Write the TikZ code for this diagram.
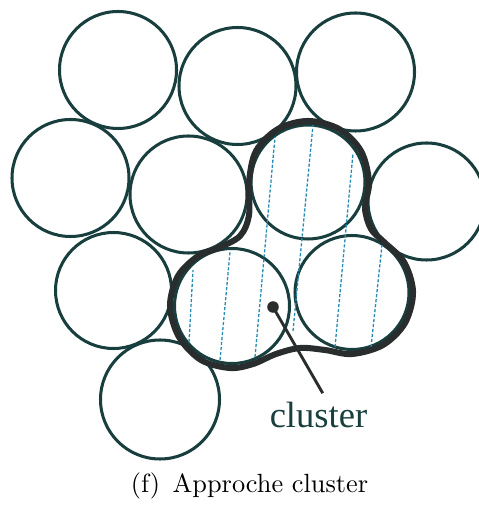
\documentclass[tikz,border=0pt]{standalone}
\usepackage{fontspec}
\usepackage{tikz}
\usetikzlibrary{positioning}
\newfontfamily\lblfont{Liberation Serif}
\definecolor{grainc}{RGB}{24,62,62}
\definecolor{clusterc}{RGB}{42,45,45}
\definecolor{hatchc}{RGB}{40,140,180}

\begin{document}
\begin{tikzpicture}[
      x=0.38pt, y=-0.38pt,
      grain/.style={draw=grainc, line width=1.15pt},
      outline/.style={draw=clusterc, line width=2.3pt, line join=round},
      hatch/.style={hatchc, line width=0.5pt, dash pattern=on 1.2pt off 0.7pt},
      pindot/.style={circle, fill=clusterc, inner sep=0pt, minimum size=4.4pt},
      lbl/.style={font=\lblfont\fontsize{13.9}{16}\selectfont, text=grainc,
          inner sep=3pt, anchor=base},
      capt/.style={font=\fontsize{10}{12}\selectfont, anchor=base},
    ]
    \useasboundingbox (0,0) rectangle (478,506);

    % ---- Grains (centre x / centre y / radius, in px) ----
    \foreach \cx/\cy/\r in {
        118/70/58.5, 237.5/86/58.5, 355.5/72/59,
        70.5/178/58.5, 188.5/194.5/58.5, 308/182/57, 426.5/201.5/58.5,
        113.5/290.5/58, 232/306/57.5, 352/292.5/57,
        160/399.5/59.5}{
        \draw[grain] (\cx,\cy) circle (\r);
      }

    % ---- Hatching inside the cluster ----
    \foreach \xa/\ya/\xb/\yb in {
        189/342/193/270, 220/360/230/252, 255/357/275/137,
        293/331/313/125, 335/347/353/153, 371/347/382/245}{
        \draw[hatch] (\xa,\ya) -- (\xb,\yb);
      }

    % ---- Cluster outline (smooth curve round the three grains) ----
    \draw[outline] plot[smooth cycle, tension=0.55] coordinates {
        (308,121) (339,129) (361,151) (369,182) (365,208) (371,229)
        (384,242) (404,262) (413,292) (405,323) (383,345) (352,354)
        (325,350) (300,348) (276,354) (253,364) (230,368) (201,360)
        (179,337) (170,306) (178,276) (198,256) (218,248) (240,236)
        (249,215) (249,182) (256,151) (278,129)};

    % ---- Label ----
    \node[pindot] (dot) at (273,307) {};
    \node[lbl] (lab) at (318.5,427) {cluster};
    \draw[clusterc, line width=1.1pt] (dot.center) -- ([xshift=1.6pt]lab.north);

    % ---- Caption ----
    \node[capt] (cap) at (249.5,492) {(f)\hspace{4.8pt}Approche cluster};

  \end{tikzpicture}
\end{document}
